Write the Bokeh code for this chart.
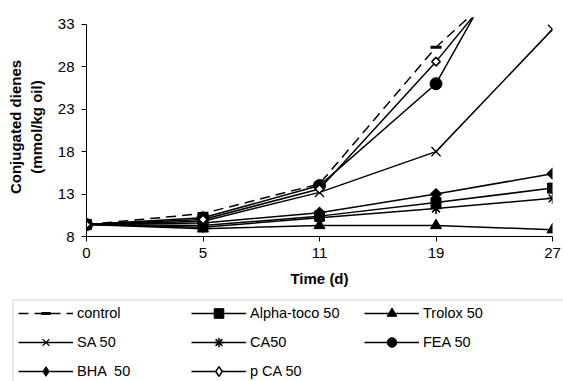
from bokeh.plotting import figure
from bokeh.models import Range1d, FixedTicker, Legend, LegendItem, BoxAnnotation, Column, Row
from bokeh.embed import file_html
from bokeh.resources import INLINE
import math

days = ["0", "5", "11", "19", "27"]
y_ticks = [8, 13, 18, 23, 28, 33]

control = [9.4, 10.7, 14.2, 30.3, 42.8]
alpha_toco = [9.4, 9.3, 10.4, 12.0, 13.7]
trolox = [9.4, 8.9, 9.3, 9.3, 8.8]
sa = [9.4, 9.8, 13.2, 18.0, 32.4]
ca = [9.4, 9.1, 10.2, 11.3, 12.5]
fea = [9.4, 10.2, 14.0, 26.0, 50.4]
bha = [9.4, 9.6, 10.8, 13.0, 15.4]
pca = [9.4, 10.0, 13.6, 28.6, 45.3]

FONT = "Liberation Sans"
FS = "15px"
x = list(range(len(days)))

p = figure(width=563, height=298, output_backend="svg", toolbar_location=None,
           x_range=Range1d(0, len(days) - 1), y_range=Range1d(8, 33.8),
           min_border_left=86, min_border_right=11, min_border_top=17, min_border_bottom=62)
p.outline_line_color = None
p.xgrid.visible = False
p.ygrid.visible = False

p.xaxis.ticker = FixedTicker(ticks=x)
p.xaxis.major_label_overrides = {i: d for i, d in enumerate(days)}
p.yaxis.ticker = FixedTicker(ticks=y_ticks)
p.yaxis.bounds = (8, 33)
for ax in (p.xaxis, p.yaxis):
    ax.minor_tick_line_color = None
    ax.major_tick_in = 0
    ax.major_tick_out = 5
    ax.axis_line_color = "black"
    ax.major_tick_line_color = "black"
    ax.major_label_text_font = FONT
    ax.major_label_text_font_size = FS
    ax.major_label_text_color = "black"
    ax.axis_label_text_font = FONT
    ax.axis_label_text_font_size = FS
    ax.axis_label_text_font_style = "bold"
    ax.axis_label_text_color = "black"
p.xaxis.axis_label = "Time (d)"
p.xaxis.major_label_standoff = 6
p.xaxis.axis_label_standoff = 9
p.yaxis.axis_label = "Conjugated dienes\n(mmol/kg oil)"
p.yaxis.major_label_standoff = 7
p.yaxis.axis_label_standoff = 10

# legend figure below the chart (its renderers lie outside its view)
q = figure(width=563, height=83, output_backend="svg", toolbar_location=None,
           x_range=Range1d(-100, -99), y_range=Range1d(-100, -99),
           x_axis_type=None, y_axis_type=None, min_border=0)
q.grid.visible = False
q.outline_line_color = None

LW = 1.5

def add(name, ys, marker, size, fill="black", dash="solid", angle=0.0, mlw=1.0,
        leg_marker=None):
    p.line(x, ys, line_color="black", line_width=LW, line_dash=dash)
    p.scatter(x, ys, marker=marker, size=size, fill_color=fill,
              line_color="black", line_width=mlw, angle=angle)
    r1 = q.line(x, ys, line_color="black", line_width=LW, line_dash=dash)
    r2 = q.scatter(x, ys, marker=leg_marker or marker, size=size, fill_color=fill,
                   line_color="black", line_width=mlw)
    return LegendItem(label=name, renderers=[r1, r2])

leg = {}
leg["control"] = add("control", control, "dash", 11, dash="10 6", mlw=3)
leg["alpha"] = add("Alpha-toco 50", alpha_toco, "square", 10)
leg["trolox"] = add("Trolox 50", trolox, "triangle", 11)
leg["sa"] = add("SA 50", sa, "x", 13, mlw=1.3)
leg["ca"] = add("CA50", ca, "asterisk", 11, mlw=1.5)
leg["fea"] = add("FEA 50", fea, "circle", 12)
leg["bha"] = add("BHA  50", bha, "square", 8, angle=math.pi / 4, leg_marker="diamond")
leg["pca"] = add("p CA 50", pca, "square", 6, fill="white", angle=math.pi / 4, mlw=1.5,
                 leg_marker="diamond")

box = BoxAnnotation(left=12.5, right=700, top=1.5, bottom=300,
                    left_units="canvas", right_units="canvas",
                    top_units="canvas", bottom_units="canvas",
                    fill_alpha=0, line_color="#666666", line_width=1)
q.add_layout(box)

order = ["control", "alpha", "trolox", "sa", "ca", "fea", "bha", "pca"]
legend = Legend(items=[leg[k] for k in order], orientation="horizontal", ncols=3,
                location=(18, -2), glyph_width=55, glyph_height=24,
                label_height=24, label_width=109, label_standoff=4, spacing=5,
                padding=0, margin=0,
                label_text_font=FONT, label_text_font_size="14.5px",
                label_text_color="black",
                border_line_color=None,
                background_fill_alpha=0)
q.add_layout(legend, "center")

layout = Column(children=[Row(children=[p]), Row(children=[q])], spacing=0)
open("out.html", "w").write(file_html(layout, INLINE))
